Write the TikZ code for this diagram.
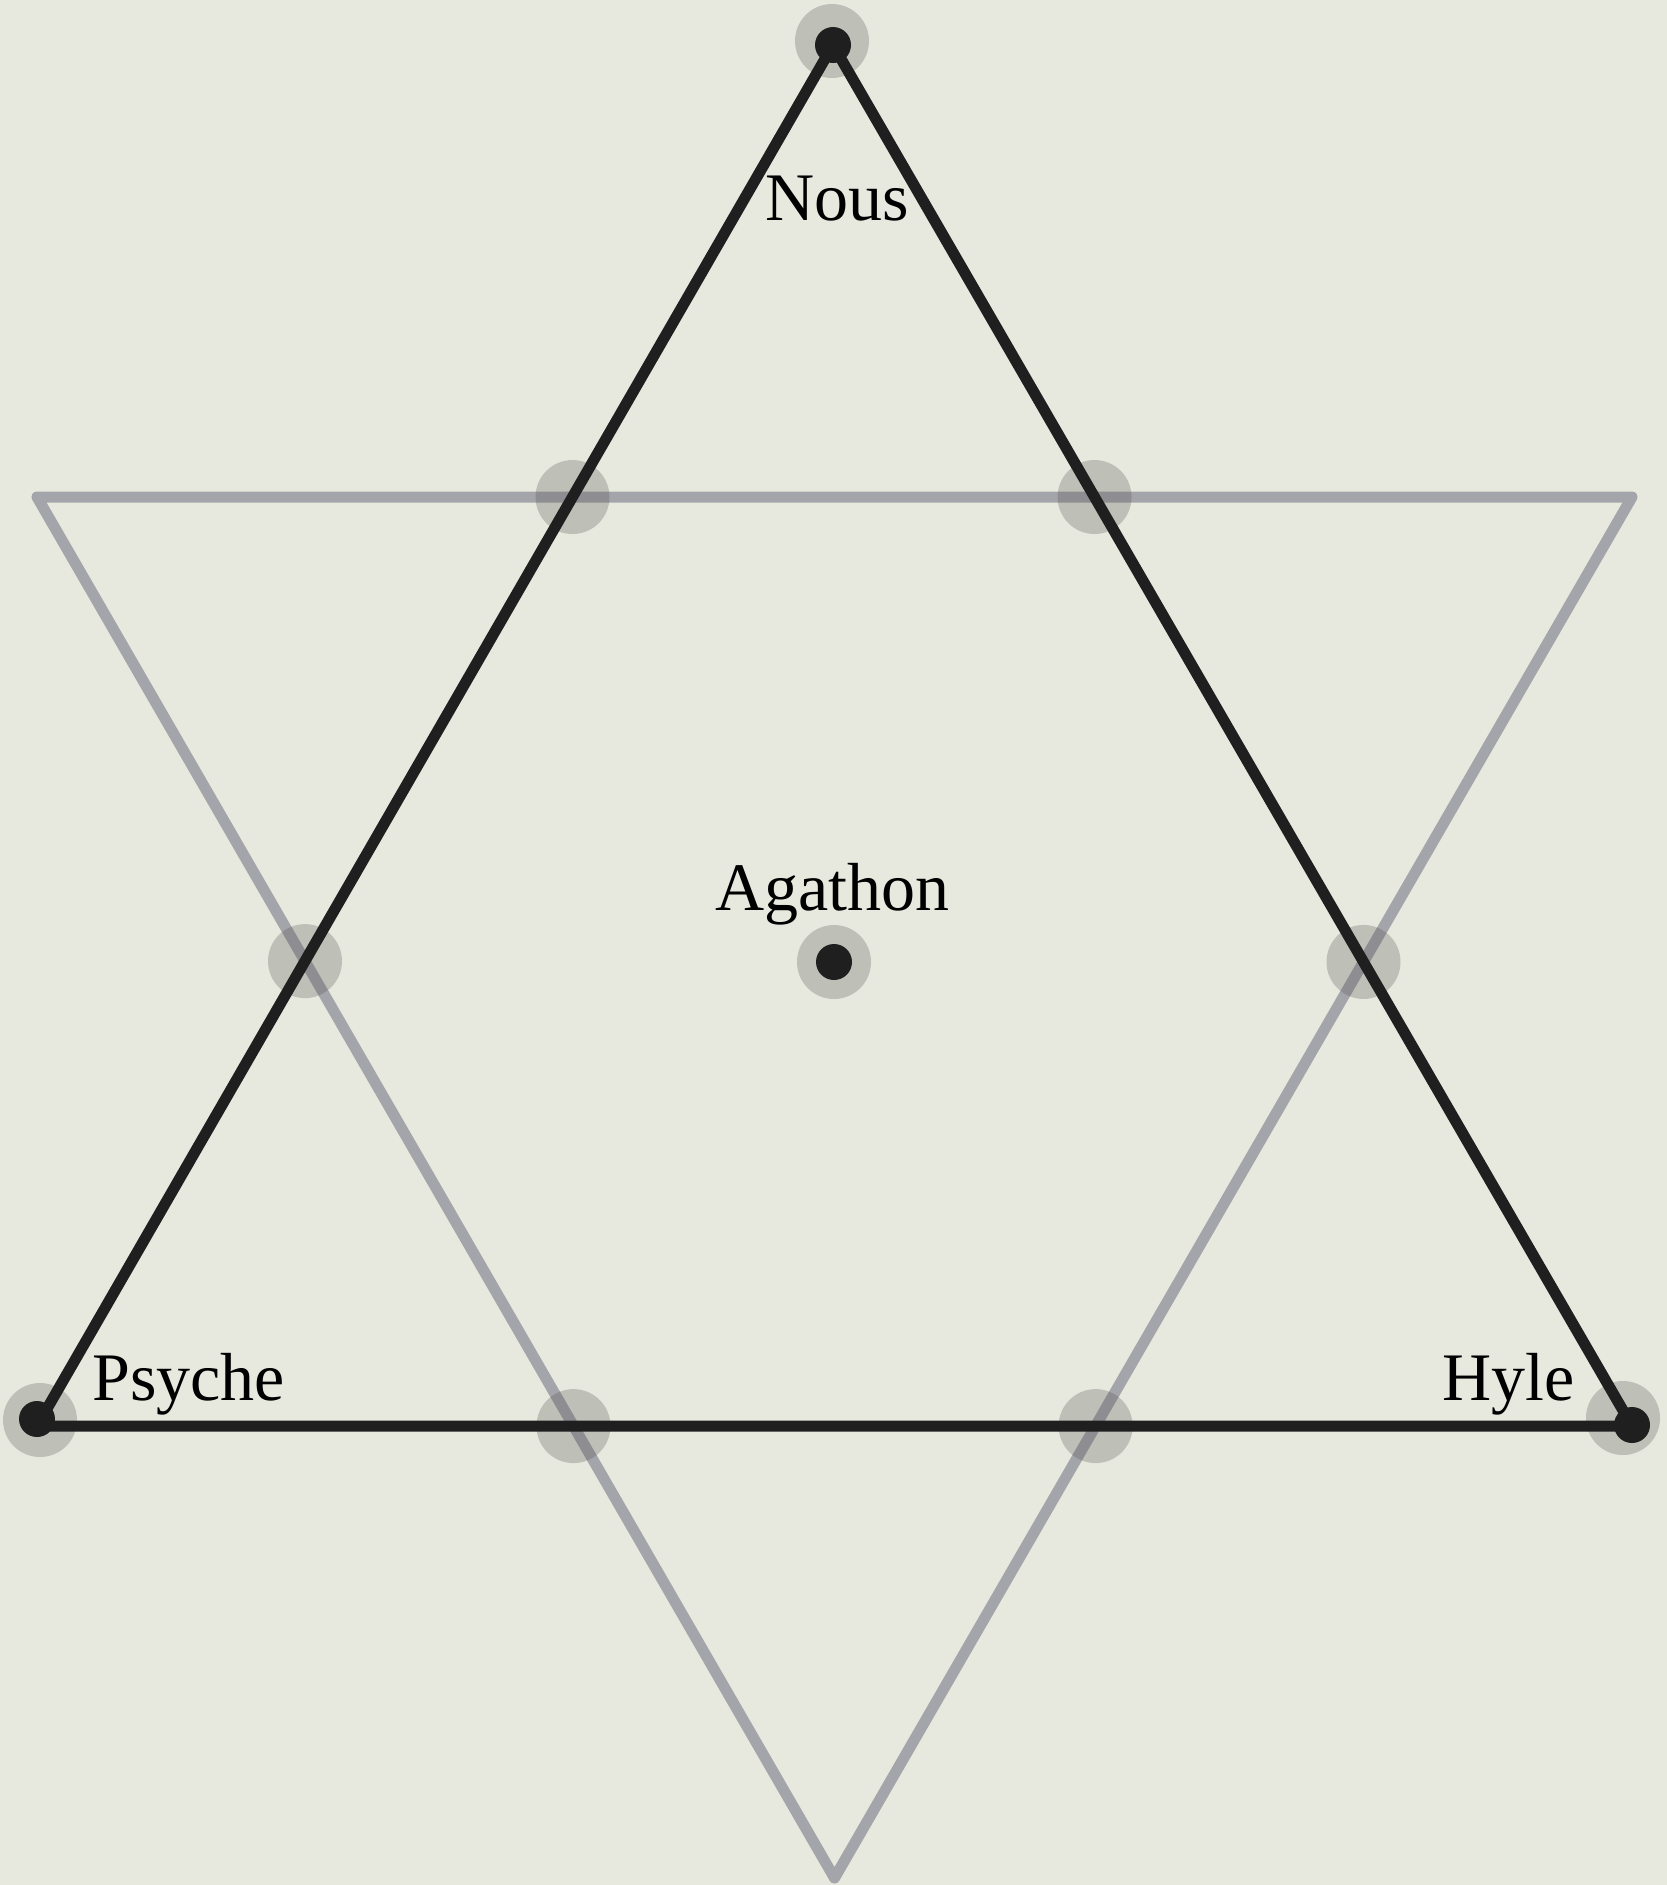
\documentclass[tikz,border=0pt]{standalone}
\usepackage{fontspec}
\setmainfont{Liberation Serif}
\begin{document}
\begin{tikzpicture}[x=1pt,y=-1pt,
  bgfill/.style={fill=bgcol},
  lighttri/.style={draw=graytri,line width=11pt,line join=round,line cap=round},
  darktri/.style={draw=darktri,line width=11pt,line join=round,line cap=round},
  halo/.style={fill=halocol,opacity=0.28},
  vdot/.style={fill=darktri},
  lbl/.style={inner sep=0pt,anchor=base west,font=\fontsize{68}{80}\selectfont,text=black}]
\definecolor{bgcol}{HTML}{E7E9DE}
\definecolor{graytri}{HTML}{A4A5AA}
\definecolor{darktri}{HTML}{1F1F20}
\definecolor{halocol}{HTML}{555555}
\useasboundingbox (0,0) rectangle (1667,1885);
\fill[bgfill] (0,0) rectangle (1667,1885);
% vertices
\coordinate (N) at (833,45);
\coordinate (P) at (37,1426);
\coordinate (H) at (1632,1426);
\coordinate (GL) at (37,497);
\coordinate (GR) at (1632,497);
\coordinate (GB) at (834.5,1878);
\coordinate (A) at (834,962);
% gray triangle
\draw[lighttri] (GL) -- (GR) -- (GB) -- cycle;
% intersections
\coordinate (I1) at (intersection of P--N and GL--GR);
\coordinate (I2) at (intersection of H--N and GL--GR);
\coordinate (I3) at (intersection of P--N and GL--GB);
\coordinate (I4) at (intersection of H--N and GR--GB);
\coordinate (I5) at (intersection of P--H and GL--GB);
\coordinate (I6) at (intersection of P--H and GR--GB);
% halos
\foreach \c in {I1,I2,I3,I4,I5,I6,A}{\fill[halo] (\c) circle (37);}
\fill[halo] (832,41) circle (37);
\fill[halo] (40,1420) circle (37);
\fill[halo] (1623,1418) circle (37);
% black triangle
\draw[darktri] (N) -- (P) -- (H) -- cycle;
% dots
\fill[vdot] (N) circle (18);
\fill[vdot] (37,1419) circle (18);
\fill[vdot] (1632,1425) circle (18);
\fill[vdot] (A) circle (18);
% labels
\node[lbl] (nous) at (765,220) {Nous};
\node[lbl] (agathon) at (715,910) {Agathon};
\node[lbl] (psyche) at (92,1400) {Psyche};
\node[lbl] (hyle) at (1442,1400) {Hyle};
\end{tikzpicture}
\end{document}
